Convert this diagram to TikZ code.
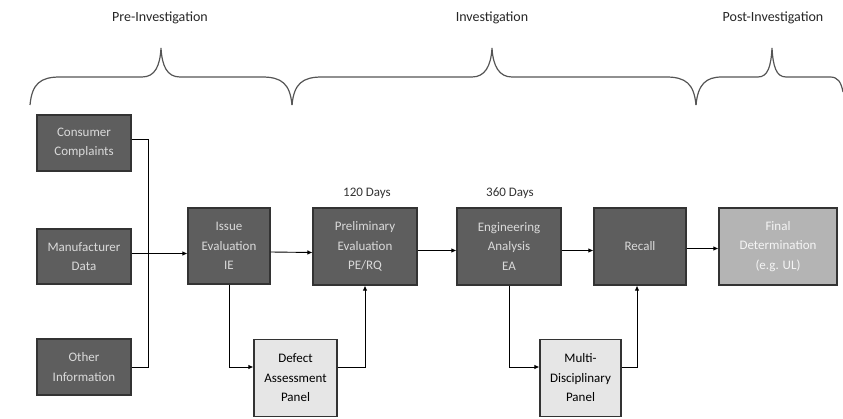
\documentclass[tikz,border=0pt]{standalone}
\usepackage{fontspec}
\setmainfont{Carlito}
\usetikzlibrary{arrows.meta}
\definecolor{darkbox}{HTML}{5E5E5E}
\definecolor{darkline}{HTML}{333333}
\definecolor{darktext}{HTML}{DADADA}
\definecolor{lightbox}{HTML}{E6E6E6}
\definecolor{finalbox}{HTML}{B4B4B4}
\definecolor{bracecol}{HTML}{555555}
\begin{document}
\begin{tikzpicture}[x=1pt,y=-1pt,
  boxfont/.style={font=\fontsize{13}{19.5}\selectfont},
  darkstep/.style={draw=darkline,line width=1.1pt,fill=darkbox,text=darktext,align=center,inner sep=1pt,boxfont},
  lightstep/.style={draw=darkline,line width=1.1pt,fill=lightbox,text=black,align=center,inner sep=1pt,boxfont},
  finalstep/.style={draw=darkline,line width=1.1pt,fill=finalbox,text=white!92!gray,align=center,inner sep=1pt,boxfont},
  conn/.style={draw=black,line width=0.9pt},
  arr/.style={conn,-{Latex[length=5pt,width=4.5pt]}},
  brace/.style={draw=bracecol,line width=1.2pt},
  phase/.style={text=black!85,font=\fontsize{14}{16}\selectfont},
  days/.style={text=black!80,font=\fontsize{13}{15}\selectfont}]
\useasboundingbox (0,0) rectangle (843,419);
% phase labels
\node[phase] (pre) at (160,18) {Pre-Investigation};
\node[phase] (inv) at (492,18) {Investigation};
\node[phase] (post) at (773,18) {Post-Investigation};
% braces
\draw[brace] (30,105) .. controls (32,84) and (40,77) .. (60,77) -- (142,77)
  .. controls (155,77) and (160,66) .. (161,48) .. controls (162,66) and (167,77) .. (180,77)
  -- (262,77) .. controls (282,77) and (290,84) .. (292,105);
\draw[brace] (292,105) .. controls (294,84) and (302,77) .. (322,77) -- (472,77)
  .. controls (485,77) and (491,66) .. (492,48) .. controls (493,66) and (499,77) .. (512,77)
  -- (666,77) .. controls (686,77) and (694,84) .. (696,105);
\draw[brace] (696,105) .. controls (698,84) and (706,77) .. (722,77) -- (758,77)
  .. controls (768,77) and (771,66) .. (772,48) .. controls (773,66) and (776,77) .. (786,77)
  -- (830,77) .. controls (838,77) and (841,82) .. (843,92);
% source boxes
\node[darkstep,minimum width=94pt,minimum height=56pt] (cc) at (84,143) {Consumer\\Complaints};
\node[darkstep,minimum width=94pt,minimum height=55pt] (md) at (84,256.5) {Manufacturer\\Data};
\node[darkstep,minimum width=94pt,minimum height=56pt] (oi) at (84,367) {Other\\Information};
% main process
\node[darkstep,minimum width=82pt,minimum height=76pt] (ie) at (229,246) {Issue\\Evaluation\\IE};
\node[darkstep,minimum width=104pt,minimum height=77pt] (pe) at (365,246.5) {Preliminary\\Evaluation\\PE/RQ};
\node[darkstep,minimum width=104pt,minimum height=77pt] (ea) at (509,246.5) {Engineering\\Analysis\\EA};
\node[darkstep,minimum width=92pt,minimum height=77pt] (rc) at (640,246.5) {Recall};
\node[finalstep,minimum width=118pt,minimum height=77pt] (fd) at (778,246.5) {Final\\Determination\\(e.g. UL)};
% panels
\node[lightstep,minimum width=83pt,minimum height=77pt] (dap) at (295.5,378) {Defect\\Assessment\\Panel};
\node[lightstep,minimum width=81pt,minimum height=77pt] (mdp) at (580.5,378) {Multi-\\Disciplinary\\Panel};
% day labels
\node[days] (d120) at (367,193) {120 Days};
\node[days] (d360) at (510,193) {360 Days};
% connectors
\coordinate (bus) at (148,253);
\draw[conn] ([yshift=4pt]cc.east) -| (bus);
\draw[conn] (oi.east) -| (bus);
\draw[arr] ([yshift=3pt]md.east) -- ([yshift=3pt]md.east -| ie.west);
\draw[arr] ([yshift=-6pt]ie.east) -- ([yshift=-6pt]pe.west);
\draw[arr] ([yshift=-4pt]pe.east) -- ([yshift=-4pt]ea.west);
\draw[arr] ([yshift=-4pt]ea.east) -- ([yshift=-4pt]rc.west);
\draw[arr] ([yshift=-2pt]rc.east) -- ([yshift=-2pt]fd.west);
\draw[arr] (ie.south) |- ([yshift=11pt]dap.west);
\draw[arr] ([yshift=11pt]dap.east) -| (pe.south);
\draw[arr] (ea.south) |- ([yshift=11pt]mdp.west);
\draw[arr] ([yshift=11pt]mdp.east) -| ([xshift=-3pt]rc.south);
\end{tikzpicture}
\end{document}
